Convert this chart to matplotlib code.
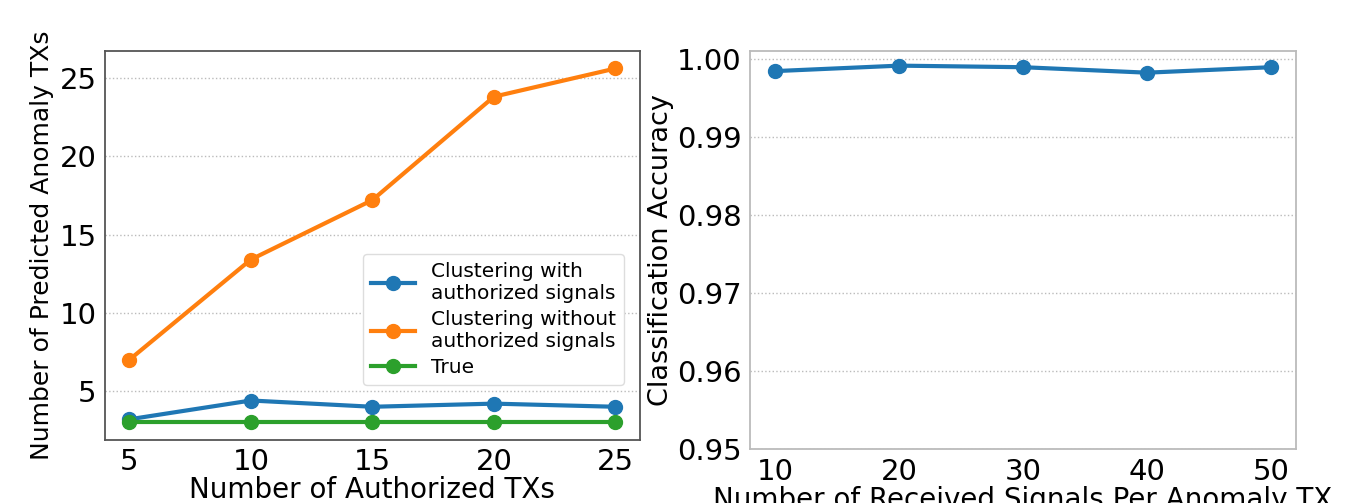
import matplotlib
matplotlib.use('Agg')
import matplotlib.pyplot as plt

# data
n_auth = [5, 10, 15, 20, 25]
with_auth = [3.2, 4.4, 4.0, 4.2, 4.0]
without_auth = [7.0, 13.4, 17.2, 23.8, 25.6]
true_count = [3, 3, 3, 3, 3]

n_signals = [10, 20, 30, 40, 50]
accuracy = [0.9984, 0.9991, 0.9989, 0.9982, 0.9989]

fig = plt.figure(figsize=(13.64, 5.03), dpi=100)
ax1 = fig.add_axes([0.077, 0.125, 0.392, 0.774])
ax2 = fig.add_axes([0.550, 0.107, 0.400, 0.792])

ax1.plot(n_auth, with_auth, '-o', color='#1f77b4', lw=3, ms=10,
         label='Clustering with\nauthorized signals')
ax1.plot(n_auth, without_auth, '-o', color='#ff7f0e', lw=3, ms=10,
         label='Clustering without\nauthorized signals')
ax1.plot(n_auth, true_count, '-o', color='#2ca02c', lw=3, ms=10, label='True')
ax1.set_xticks(n_auth)
ax1.set_yticks([5, 10, 15, 20, 25])
ax1.set_xlabel('Number of Authorized TXs', fontsize=20, labelpad=0)
ax1.set_ylabel('Number of Predicted Anomaly TXs', fontsize=18, labelpad=4)
ax1.legend(loc='lower right', fontsize=14.5, bbox_to_anchor=(0.99, 0.115),
           handlelength=2.2, labelspacing=0.35, framealpha=1, edgecolor='#dddddd')

ax2.plot(n_signals, accuracy, '-o', color='#1f77b4', lw=3, ms=10)
ax2.set_xticks(n_signals)
ax2.set_ylim(0.95, 1.001)
ax2.set_yticks([0.95, 0.96, 0.97, 0.98, 0.99, 1.00])
ax2.set_yticklabels(['%.2f' % v for v in [0.95, 0.96, 0.97, 0.98, 0.99, 1.00]])
ax2.set_xlabel('Number of Received Signals Per Anomaly TX', fontsize=20, labelpad=0)
ax2.set_ylabel('Classification Accuracy', fontsize=19.5, labelpad=2)

for ax, sc in ((ax1, '#555555'), (ax2, '#bbbbbb')):
    ax.grid(axis='y', color='#bbbbbb', ls=':', lw=1)
    ax.set_axisbelow(True)
    for s in ax.spines.values():
        s.set_color(sc)
        s.set_linewidth(1.3)
    ax.tick_params(axis='both', length=0, pad=6)
    for t in ax.get_xticklabels() + ax.get_yticklabels():
        t.set_fontsize(21)

fig.savefig('out.png', dpi=100)
